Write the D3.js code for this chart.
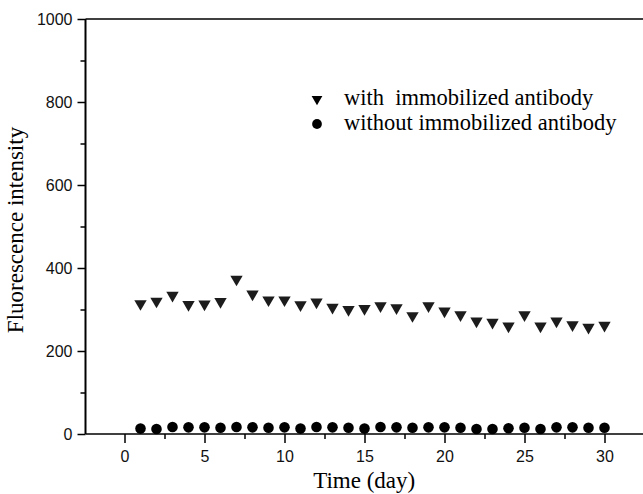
<!DOCTYPE html>
<html>
<head>
<meta charset="utf-8">
<script src="https://cdn.jsdelivr.net/npm/d3@7"></script>
<style>
  body { margin: 0; background: #fff; }
  svg { display: block; }
</style>
</head>
<body>
<svg id="chart" width="643" height="494"></svg>
<script>
// days of measurement
const days = d3.range(1, 31);

// fluorescence intensity, with immobilized antibody (triangles)
const withAntibody = [314, 320, 334, 312, 313, 319, 373, 337, 323, 323,
  311, 318, 305, 300, 302, 309, 304, 285, 309, 296,
  287, 272, 269, 260, 287, 260, 272, 263, 257, 262];

// fluorescence intensity, without immobilized antibody (circles)
const withoutAntibody = [13, 12, 17, 16, 16, 15, 17, 16, 15, 16,
  13, 17, 16, 15, 13, 17, 16, 15, 16, 16,
  15, 12, 12, 14, 15, 12, 16, 16, 15, 15];

const xMajorTicks = [0, 5, 10, 15, 20, 25, 30];
const xMinorTicks = [2.5, 7.5, 12.5, 17.5, 22.5, 27.5, 32.5];
const yMajorTicks = [0, 200, 400, 600, 800, 1000];
const yMinorTicks = [100, 300, 500, 700, 900];

const seriesNames = ['with  immobilized antibody', 'without immobilized antibody'];

const svg = d3.select('#chart');

const x = d3.scaleLinear().domain([-2.5, 32.5]).range([84.5, 644.5]);
const y = d3.scaleLinear().domain([0, 1000]).range([434, 19]);

const tickFont = '"Liberation Sans", Arial, sans-serif';
const serifFont = '"Liberation Serif", "Times New Roman", serif';

const left = x(-2.5) + 1;

/**
 * Axes
 */
function styleAxis(g, width) {
  g.select('.domain').remove();
  g.selectAll('line').attr('stroke', '#000').attr('stroke-width', width);
  g.selectAll('text')
    .attr('fill', '#111')
    .style('font-family', tickFont)
    .style('font-size', '16px');
}

svg.append('g')
  .attr('transform', `translate(0,${y(0)})`)
  .call(d3.axisBottom(x).tickValues(xMinorTicks).tickSize(5).tickFormat(''))
  .call(g => styleAxis(g, 1.5));

svg.append('g')
  .attr('transform', `translate(0,${y(0)})`)
  .call(d3.axisBottom(x).tickValues(xMajorTicks).tickSize(9).tickPadding(8).tickFormat(d3.format('d')))
  .call(g => styleAxis(g, 1.5));

svg.append('g')
  .attr('transform', `translate(${left},0)`)
  .call(d3.axisLeft(y).tickValues(yMinorTicks).tickSize(5).tickFormat(''))
  .call(g => styleAxis(g, 1.5));

svg.append('g')
  .attr('transform', `translate(${left},0)`)
  .call(d3.axisLeft(y).tickValues(yMajorTicks).tickSize(8).tickPadding(5).tickFormat(d3.format('d')))
  .call(g => styleAxis(g, 1.5));

// frame lines
svg.append('line')
  .attr('x1', left).attr('x2', 643)
  .attr('y1', y(0)).attr('y2', y(0))
  .attr('stroke', '#000').attr('stroke-width', 1.6);

svg.append('line')
  .attr('x1', left).attr('x2', left)
  .attr('y1', y(1000)).attr('y2', y(0))
  .attr('stroke', '#000').attr('stroke-width', 2);

svg.append('line')
  .attr('x1', left).attr('x2', 643)
  .attr('y1', y(1000)).attr('y2', y(1000))
  .attr('stroke', '#000').attr('stroke-width', 1.3);

/**
 * Points
 */
const triangle = d3.symbol().type(d3.symbolTriangle).size(66);
const circle = d3.symbol().type(d3.symbolCircle).size(88);

svg.append('g').selectAll('path')
  .data(days)
  .join('path')
  .attr('d', triangle)
  .attr('transform', (d, i) => `translate(${x(d)},${y(withAntibody[i])}) rotate(180)`)
  .attr('fill', '#1c1c1c');

svg.append('g').selectAll('path')
  .data(days)
  .join('path')
  .attr('d', circle)
  .attr('transform', (d, i) => `translate(${x(d)},${y(withoutAntibody[i])})`)
  .attr('fill', '#000');

/**
 * Legend
 */
const legend = svg.append('g').attr('transform', 'translate(317,99)');

legend.append('path')
  .attr('d', d3.symbol().type(d3.symbolTriangle).size(50))
  .attr('transform', 'rotate(180)')
  .attr('fill', '#000');

legend.append('path')
  .attr('d', d3.symbol().type(d3.symbolCircle).size(75))
  .attr('transform', 'translate(0,25)')
  .attr('fill', '#000');

legend.selectAll('text')
  .data(seriesNames)
  .join('text')
  .attr('x', 27)
  .attr('y', (d, i) => i * 25 + 6)
  .attr('xml:space', 'preserve')
  .style('white-space', 'pre')
  .style('font-family', serifFont)
  .style('font-size', '22.5px')
  .attr('fill', '#000')
  .text(d => d);

/**
 * Axis titles
 */
svg.append('text')
  .attr('x', (left + 643) / 2)
  .attr('y', 488)
  .attr('text-anchor', 'middle')
  .style('font-family', serifFont)
  .style('font-size', '23px')
  .text('Time (day)');

svg.append('text')
  .attr('transform', 'translate(23,230) rotate(-90)')
  .attr('text-anchor', 'middle')
  .style('font-family', serifFont)
  .style('font-size', '23px')
  .text('Fluorescence intensity');
</script>
</body>
</html>
